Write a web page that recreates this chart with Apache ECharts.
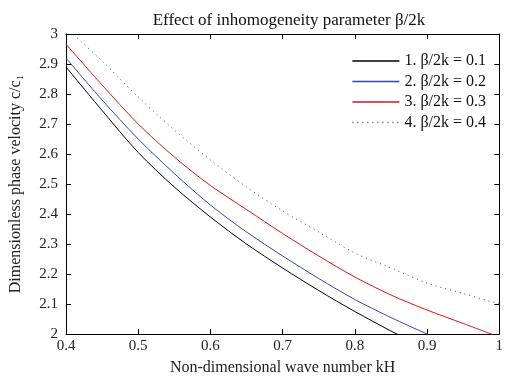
<!DOCTYPE html>
<html>
<head>
<meta charset="utf-8">
<script src="https://cdn.jsdelivr.net/npm/echarts@6/dist/echarts.min.js"></script>
<style>
  html, body { margin: 0; padding: 0; background: #fff; }
  #chart { width: 506px; height: 381px; }
</style>
</head>
<body>
<div id="chart"></div>
<script>
// 横轴 kH
var kH = [0.4, 0.45, 0.5, 0.55, 0.6, 0.65, 0.7, 0.75, 0.8, 0.85, 0.9, 0.95, 1.0];
// 各曲线 c/c1
var c01 = [2.89, 2.745, 2.605, 2.49, 2.39, 2.30, 2.22, 2.145, 2.075, 2.01, 1.95, 1.90, 1.85];
var c02 = [2.92, 2.78, 2.65, 2.535, 2.43, 2.34, 2.26, 2.185, 2.115, 2.055, 2.0, 1.95, 1.90];
var c03 = [2.966, 2.83, 2.70, 2.59, 2.495, 2.415, 2.335, 2.26, 2.19, 2.13, 2.08, 2.035, 1.99];
var c04 = [3.02, 2.91, 2.79, 2.68, 2.58, 2.49, 2.41, 2.34, 2.27, 2.22, 2.17, 2.135, 2.10];
var names = ['1. \u03b2/2k = 0.1', '2. \u03b2/2k = 0.2', '3. \u03b2/2k = 0.3', '4. \u03b2/2k = 0.4'];

function pairs(ys) {
    var arr = [];
    for (var i = 0; i < kH.length; i++) {
        arr.push([kH[i], ys[i]]);
    }
    return arr;
}

var serif = '"Liberation Serif", "DejaVu Serif", serif';
var txt = { color: '#222', fontFamily: serif, fontSize: 16 };

// 外框上的刻度（四边都有，朝内）
function frameAxis(pos, isX) {
    return {
        type: 'value',
        position: pos,
        min: isX ? 0.4 : 2,
        max: isX ? 1 : 3,
        interval: 0.1,
        axisLine: { show: true, onZero: false, lineStyle: { color: '#000', width: 1 } },
        axisTick: { show: true, inside: true, length: 5, lineStyle: { color: '#000' } },
        axisLabel: { show: false },
        splitLine: { show: false }
    };
}

var option = {
    backgroundColor: '#fff',
    animation: false,
    title: {
        text: 'Effect of inhomogeneity parameter \u03b2/2k',
        left: 284,
        top: 7,
        textAlign: 'center',
        textStyle: { color: '#111', fontFamily: serif, fontSize: 17, fontWeight: 'normal' }
    },
    legend: {
        orient: 'vertical',
        right: 15,
        top: 48,
        itemWidth: 47,
        itemHeight: 14,
        itemGap: 4.5,
        data: names,
        itemStyle: { opacity: 0 },
        lineStyle: { width: 1.3 },
        textStyle: { color: '#111', fontFamily: serif, fontSize: 16 }
    },
    grid: { left: 65, right: 2, top: 34, bottom: 40 },
    xAxis: [
        {
            type: 'value',
            min: 0.4,
            max: 1,
            interval: 0.1,
            name: 'Non-dimensional wave number kH',
            nameLocation: 'middle',
            nameGap: 26,
            nameTextStyle: txt,
            axisLine: { show: true, onZero: false, lineStyle: { color: '#000', width: 1 } },
            axisTick: { show: true, inside: true, length: 5, lineStyle: { color: '#000' } },
            axisLabel: {
                margin: 5,
                color: '#222', fontFamily: serif, fontSize: 15,
                formatter: function (v) { return v === 1 ? '1' : v.toFixed(1); }
            },
            splitLine: { show: false }
        },
        frameAxis('top', true)
    ],
    yAxis: [
        {
            type: 'value',
            min: 2,
            max: 3,
            interval: 0.1,
            name: 'Dimensionless phase velocity c/c\u2081',
            nameLocation: 'middle',
            nameGap: 42,
            nameTextStyle: txt,
            axisLine: { show: true, onZero: false, lineStyle: { color: '#000', width: 1 } },
            axisTick: { show: true, inside: true, length: 5, lineStyle: { color: '#000' } },
            axisLabel: {
                margin: 8,
                color: '#222', fontFamily: serif, fontSize: 15,
                formatter: function (v) { return (v === 2 || v === 3) ? String(v) : v.toFixed(1); }
            },
            splitLine: { show: false }
        },
        frameAxis('right', false)
    ],
    series: [
        {
            name: names[0], type: 'line', smooth: 0.3, symbol: 'none', clip: true,
            color: '#000', lineStyle: { width: 1, color: '#000' },
            data: pairs(c01)
        },
        {
            name: names[1], type: 'line', smooth: 0.3, symbol: 'none', clip: true,
            color: '#3346b4', lineStyle: { width: 1, color: '#3346b4' },
            data: pairs(c02)
        },
        {
            name: names[2], type: 'line', smooth: 0.3, symbol: 'none', clip: true,
            color: '#d01818', lineStyle: { width: 1, color: '#d01818' },
            data: pairs(c03)
        },
        {
            name: names[3], type: 'line', smooth: 0.3, symbol: 'none', clip: true,
            color: '#2a5a4a', lineStyle: { width: 1, color: '#2a5a4a', type: [1, 4] },
            data: pairs(c04)
        }
    ]
};

var myChart = echarts.init(document.getElementById('chart'));
myChart.setOption(option, true);
</script>
</body>
</html>
